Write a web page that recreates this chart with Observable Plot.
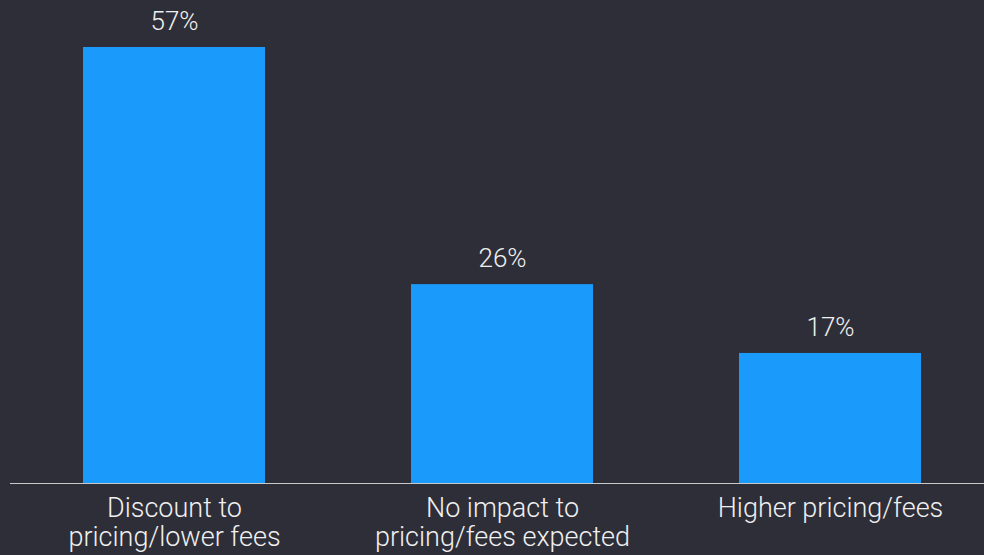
<!DOCTYPE html>
<html><head><meta charset="utf-8">
<script src="https://cdn.jsdelivr.net/npm/d3@7"></script>
<script src="https://cdn.jsdelivr.net/npm/@observablehq/plot@0.6"></script>
<style>
html,body{margin:0;padding:0;background:#2e2e38;}
</style></head><body><div id="chart"></div>
<script>
const categories = ["Discount to pricing/lower fees", "No impact to pricing/fees expected", "Higher pricing/fees"];
const tickLabels = ["Discount to\npricing/lower fees", "No impact to\npricing/fees expected", "Higher pricing/fees"];
const values = [57, 26, 17];
const valueLabels = ["57%", "26%", "17%"];

const data = categories.map((c, i) => ({category: c, value: values[i], label: valueLabels[i]}));

const chart = Plot.plot({
  width: 984,
  height: 555,
  marginLeft: 10,
  marginRight: 0,
  marginTop: 47,
  marginBottom: 72,
  style: {background: "#2e2e38", color: "#f0f0f0", fontFamily: "Roboto", fontSize: "27px", fontWeight: 300},
  x: {domain: categories, range: [20, 984], paddingInner: 0.445, paddingOuter: 0.192, label: null},
  y: {domain: [0, 57], axis: null},
  marks: [
    Plot.barY(data, {x: "category", y: "value", fill: "#1a9afa"}),
    Plot.ruleY([0], {stroke: "#c8c8c8", strokeWidth: 1.2}),
    Plot.text(data, {x: "category", y: "value", text: "label", dy: -26, fill: "#f0f0f0", fontSize: 26, fontWeight: 300}),
    Plot.axisX({
      tickSize: 0,
      tickPadding: 13,
      fontSize: 27,
      fontWeight: 300,
      lineHeight: 1.08,
      fill: "#f0f0f0",
      label: null,
      tickFormat: c => tickLabels[categories.indexOf(c)]
    })
  ]
});
document.getElementById("chart").appendChild(chart);
</script></body></html>
